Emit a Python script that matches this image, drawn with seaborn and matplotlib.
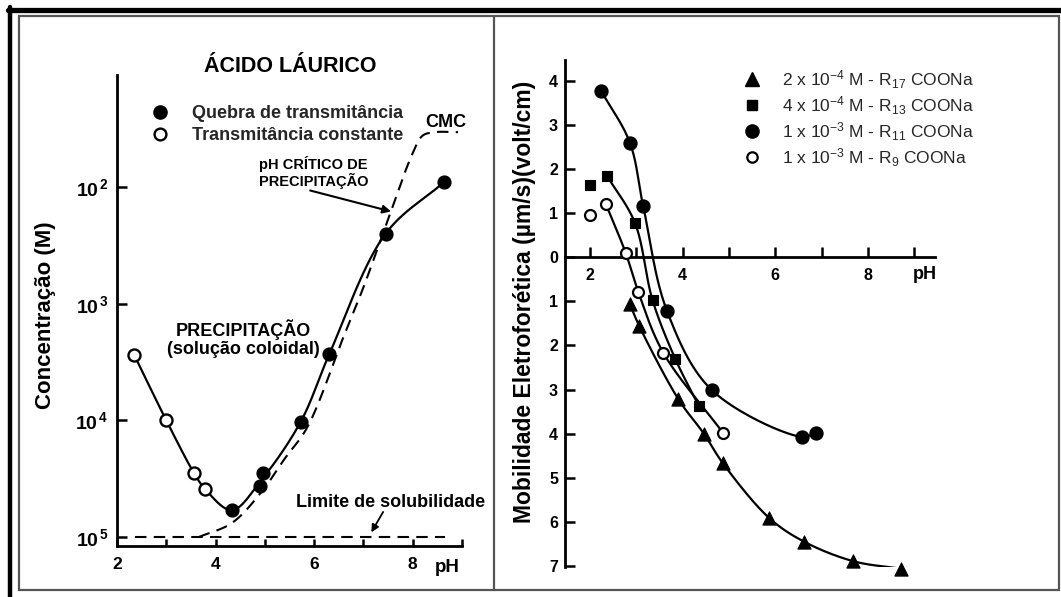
import numpy as np
import matplotlib
matplotlib.use("Agg")
import matplotlib.pyplot as plt
import seaborn as sns
from matplotlib.lines import Line2D
from matplotlib.patches import Rectangle
from matplotlib.ticker import FixedLocator, NullLocator, FuncFormatter

# ---------------- Ácido láurico: concentração x pH ----------------
open_ph = [2.35, 3.0, 3.56, 3.79]
open_logc = [-3.44, -4.0, -4.45, -4.59]
filled_ph = [4.33, 4.91, 4.97, 5.73, 6.31, 7.45, 8.63]
filled_logc = [-4.77, -4.56, -4.45, -4.01, -3.43, -2.40, -1.96]
cmc_ph = [3.66, 4.33, 4.92, 5.4, 5.86, 6.6, 7.0, 7.53, 8.0, 8.2, 8.45, 8.92]
cmc_logc = [-5.0, -4.88, -4.62, -4.33, -4.06, -3.28, -2.86, -2.24, -1.71, -1.56, -1.53, -1.53]
sol_limit_ph = [2.36, 8.66]
sol_limit_logc = [-5.0, -5.0]
left_xticks = [2, 4, 6, 8]
left_yticks = [-2, -3, -4, -5]
left_ytick_labels = [r"$\mathbf{10^{\,2}}$", r"$\mathbf{10^{\,3}}$",
                     r"$\mathbf{10^{\,4}}$", r"$\mathbf{10^{\,5}}$"]

# ---------------- Mobilidade eletroforética x pH ----------------
r17_ph = [2.86, 3.06, 3.91, 4.46, 4.87, 5.87, 6.63, 7.69, 8.72]
r17_mob = [-1.06, -1.55, -3.22, -4.00, -4.67, -5.91, -6.45, -6.89, -7.06]
r13_ph = [2.01, 2.37, 2.97, 3.35, 3.84, 4.35]
r13_mob = [1.63, 1.84, 0.78, -0.97, -2.30, -3.37]
r11_ph = [2.24, 2.86, 3.15, 3.66, 4.63, 6.57, 6.88]
r11_mob = [3.77, 2.60, 1.15, -1.21, -3.01, -4.07, -3.98]
r9_ph = [2.01, 2.34, 2.77, 3.04, 3.58, 4.88]
r9_mob = [0.95, 1.21, 0.10, -0.78, -2.16, -3.99]
right_labels = [r"2 x 10$^{-4}$ M - R$_{17}$ COONa",
                r"4 x 10$^{-4}$ M - R$_{13}$ COONa",
                r"1 x 10$^{-3}$ M - R$_{11}$ COONa",
                r"1 x 10$^{-3}$ M - R$_{9}$ COONa"]
right_xticks = [2, 4, 6, 8]
right_yticks = [-7, -6, -5, -4, -3, -2, -1, 0, 1, 2, 3, 4]

W, H = 1061, 597

sns.set_theme(style="ticks")
plt.rcParams["font.family"] = ["Liberation Sans", "DejaVu Sans"]
plt.rcParams["mathtext.fontset"] = "custom"
plt.rcParams["mathtext.rm"] = "Liberation Sans"
plt.rcParams["mathtext.it"] = "Liberation Sans:italic"
plt.rcParams["mathtext.bf"] = "Liberation Sans:bold"


def merge_close(x, y, sx, sy, tol=14.0):
    """Average neighbouring points that sit closer than tol (in screen units)."""
    xs, ys = [x[0]], [y[0]]
    cnt = [1]
    for a, b in zip(x[1:], y[1:]):
        if np.hypot((a - xs[-1] / cnt[-1]) * sx, (b - ys[-1] / cnt[-1]) * sy) < tol:
            xs[-1] += a
            ys[-1] += b
            cnt[-1] += 1
        else:
            xs.append(a)
            ys.append(b)
            cnt.append(1)
    return [v / c for v, c in zip(xs, cnt)], [v / c for v, c in zip(ys, cnt)]


def catmull_rom(x, y, sx=1.0, sy=1.0, n=40, alpha=0.5):
    """Centripetal Catmull-Rom curve through the given points."""
    P = np.column_stack([np.asarray(x, float) * sx, np.asarray(y, float) * sy])
    P = np.vstack([2 * P[0] - P[1], P, 2 * P[-1] - P[-2]])
    parts = []
    for i in range(len(P) - 3):
        p0, p1, p2, p3 = P[i:i + 4]
        t0 = 0.0
        t1 = t0 + np.linalg.norm(p1 - p0) ** alpha
        t2 = t1 + np.linalg.norm(p2 - p1) ** alpha
        t3 = t2 + np.linalg.norm(p3 - p2) ** alpha
        t = np.linspace(t1, t2, n)[:, None]
        A1 = (t1 - t) / (t1 - t0) * p0 + (t - t0) / (t1 - t0) * p1
        A2 = (t2 - t) / (t2 - t1) * p1 + (t - t1) / (t2 - t1) * p2
        A3 = (t3 - t) / (t3 - t2) * p2 + (t - t2) / (t3 - t2) * p3
        B1 = (t2 - t) / (t2 - t0) * A1 + (t - t0) / (t2 - t0) * A2
        B2 = (t3 - t) / (t3 - t1) * A2 + (t - t1) / (t3 - t1) * A3
        C = (t2 - t) / (t2 - t1) * B1 + (t - t1) / (t2 - t1) * B2
        parts.append(C if i == 0 else C[1:])
    C = np.vstack(parts)
    return C[:, 0] / sx, C[:, 1] / sy


def fx(px):
    return px / W


def fy(py):
    return 1 - py / H


fig = plt.figure(figsize=(W / 100, H / 100), dpi=100)
fig.patch.set_facecolor("white")

# ---------------- frame ----------------
fig.add_artist(Line2D([fx(8), fx(1061)], [fy(9.5), fy(9.5)], color="black", lw=3.8,
                      transform=fig.transFigure))
fig.add_artist(Line2D([fx(10), fx(10)], [fy(7), fy(597)], color="black", lw=3.2,
                      transform=fig.transFigure))
fig.add_artist(Rectangle((fx(18.5), fy(590)), fx(1059) - fx(18.5), fy(15.5) - fy(590),
                         fill=False, edgecolor="#555555", lw=1.6, transform=fig.transFigure))
fig.add_artist(Line2D([fx(494), fx(494)], [fy(15.5), fy(590)], color="#555555", lw=1.6,
                      transform=fig.transFigure))

BOLD = dict(fontweight="bold", color="black")
DASH = (0, (5.5, 3.5))

# ================= left panel =================
ax1 = fig.add_axes([fx(117), fy(546), fx(462) - fx(117), fy(75) - fy(546)])
ax1.set_facecolor("none")
ax1.set_yscale("log")
ax1.set_xlim(2, 9)
ax1.set_ylim(10 ** -5.077, 10 ** -1.04)

# solubility limit and CMC (dashed)
ax1.plot(sol_limit_ph, 10 ** np.asarray(sol_limit_logc), color="black", lw=1.5, ls=DASH)
cx, cy = catmull_rom(cmc_ph, cmc_logc, sx=50, sy=116.7)
sns.lineplot(x=cx, y=10 ** cy, ax=ax1, sort=False, estimator=None, color="black",
             lw=1.5, ls=DASH)

# solid curve through all measured points
all_ph = open_ph + filled_ph
all_logc = open_logc + filled_logc
mx, my = merge_close(all_ph, all_logc, 50, 116.7)
sx_, sy_ = catmull_rom(mx, my, sx=50, sy=116.7)
sns.lineplot(x=sx_, y=10 ** sy_, ax=ax1, sort=False, estimator=None, color="black", lw=1.6)

sns.scatterplot(x=filled_ph, y=10 ** np.asarray(filled_logc), ax=ax1, marker="o", s=85,
                color="black", edgecolor="black", linewidth=1, zorder=5)
sns.scatterplot(x=open_ph, y=10 ** np.asarray(open_logc), ax=ax1, marker="o", s=75,
                color="white", edgecolor="black", linewidth=1.7, zorder=5)

for side in ["top", "right"]:
    ax1.spines[side].set_visible(False)
for side in ["left", "bottom"]:
    ax1.spines[side].set_linewidth(2.0)
    ax1.spines[side].set_color("black")
ax1.xaxis.set_major_locator(FixedLocator(left_xticks))
ax1.xaxis.set_minor_locator(FixedLocator([3, 5, 7, 9]))
ax1.yaxis.set_major_locator(FixedLocator([10.0 ** v for v in left_yticks]))
ax1.yaxis.set_minor_locator(NullLocator())
ax1.set_yticklabels(left_ytick_labels)
ax1.set_xticklabels([str(v) for v in left_xticks])
ax1.tick_params(axis="x", which="both", direction="in", length=5, width=1.8,
                pad=8, labelsize=12.5, colors="black")
ax1.tick_params(axis="y", which="major", direction="in", length=7, width=1.8,
                pad=6, labelsize=14, colors="black")
for lab in ax1.get_xticklabels():
    lab.set_fontweight("bold")

ax1.text(5.52, 10 ** -0.97, "ÁCIDO LÁURICO", ha="center", va="center", fontsize=15.5, **BOLD)
ax1.text(5.99, 10 ** -1.876, "pH CRÍTICO DE\nPRECIPITAÇÃO", ha="center", va="center",
         fontsize=10.5, linespacing=1.1, **BOLD)
ax1.annotate("", xy=(7.56, 10 ** -2.21), xytext=(5.92, 10 ** -2.03),
             arrowprops=dict(arrowstyle="-|>", color="black", lw=1.5, mutation_scale=12,
                             shrinkA=0, shrinkB=0))
ax1.text(4.56, 10 ** -3.30, "PRECIPITAÇÃO\n(solução coloidal)", ha="center", va="center",
         fontsize=13, linespacing=1.05, **BOLD)
ax1.text(7.56, 10 ** -4.70, "Limite de solubilidade", ha="center", va="center",
         fontsize=13, **BOLD)
ax1.annotate("", xy=(7.16, 10 ** -4.96), xytext=(7.40, 10 ** -4.785),
             arrowprops=dict(arrowstyle="-|>", color="black", lw=1.3, mutation_scale=11,
                             shrinkA=0, shrinkB=0))
ax1.text(8.67, 10 ** -1.45, "CMC", ha="center", va="center", fontsize=13, **BOLD)
ax1.text(8.7, 10 ** -5.26, "pH", ha="center", va="center", fontsize=13.5,
         clip_on=False, **BOLD)

leg1_handles = [
    Line2D([], [], marker="o", ls="none", color="black", ms=9.5),
    Line2D([], [], marker="o", ls="none", mfc="white", mec="black", mew=1.7, ms=8.5),
]
ax1.legend(leg1_handles, ["Quebra de transmitância", "Transmitância constante"],
           loc="upper left", bbox_to_anchor=(fx(151), fy(105)),
           bbox_transform=fig.transFigure, frameon=False, borderpad=0,
           borderaxespad=0, handlelength=1.0, handletextpad=1.25,
           labelspacing=0.28, prop=dict(weight="bold", size=13))

fig.text(fx(46), fy(315), "Concentração (M)", rotation=90, ha="center", va="center",
         fontsize=16, **BOLD)

# ================= right panel =================
ax2 = fig.add_axes([fx(565), fy(567), fx(935) - fx(565), fy(60) - fy(567)])
ax2.set_facecolor("none")
ax2.set_xlim(1.46, 9.45)
ax2.set_ylim(-7.02, 4.47)

series = [
    (r17_ph, r17_mob, "^", 90, "black", 0, 0.8),
    (r13_ph, r13_mob, "s", 62, "black", 1, 0.8),
    (r11_ph, r11_mob, "o", 90, "black", 0, 0.8),
    (r9_ph, r9_mob, "o", 62, "white", 1, 1.6),
]
for xs, ys, mk, sz, fc, start, mew in series:
    lx, ly = catmull_rom(xs[start:], ys[start:], sx=46.3, sy=44)
    sns.lineplot(x=lx, y=ly, ax=ax2, sort=False, estimator=None, color="black", lw=1.6)
    sns.scatterplot(x=xs, y=ys, ax=ax2, marker=mk, s=sz, color=fc, edgecolor="black",
                    linewidth=mew, zorder=5, clip_on=False)

ax2.spines["top"].set_visible(False)
ax2.spines["right"].set_visible(False)
ax2.spines["bottom"].set_position(("data", 0))
for side in ["left", "bottom"]:
    ax2.spines[side].set_linewidth(2.0)
    ax2.spines[side].set_color("black")
ax2.xaxis.set_major_locator(FixedLocator(right_xticks))
ax2.xaxis.set_minor_locator(FixedLocator([3, 5, 7, 9]))
ax2.yaxis.set_major_locator(FixedLocator(right_yticks))
ax2.yaxis.set_major_formatter(FuncFormatter(lambda v, p: f"{abs(v):g}"))
ax2.tick_params(axis="x", which="both", direction="in", length=7, width=1.8,
                pad=8, labelsize=11.5, colors="black")
ax2.tick_params(axis="y", direction="in", length=7, width=1.8, pad=5,
                labelsize=11.5, colors="black")
for lab in ax2.get_xticklabels() + ax2.get_yticklabels():
    lab.set_fontweight("bold")
ax2.text(9.23, -0.40, "pH", ha="center", va="center", fontsize=13, **BOLD)

leg2_handles = [
    Line2D([], [], marker="^", ls="none", color="black", ms=9.5),
    Line2D([], [], marker="s", ls="none", color="black", ms=7.5),
    Line2D([], [], marker="o", ls="none", color="black", ms=9.5),
    Line2D([], [], marker="o", ls="none", mfc="white", mec="black", mew=1.6, ms=7.5),
]
ax2.legend(leg2_handles, right_labels, loc="upper left",
           bbox_to_anchor=(fx(743), fy(68)), bbox_transform=fig.transFigure,
           frameon=False, borderpad=0, borderaxespad=0, handlelength=1.0,
           handletextpad=1.25, labelspacing=0.2, prop=dict(size=12.5))

fig.text(fx(524), fy(302), "Mobilidade Eletroforética (µm/s)(volt/cm)", rotation=90,
         ha="center", va="center", fontsize=16.5, **BOLD)

fig.savefig("out.png", dpi=100, facecolor="white")
